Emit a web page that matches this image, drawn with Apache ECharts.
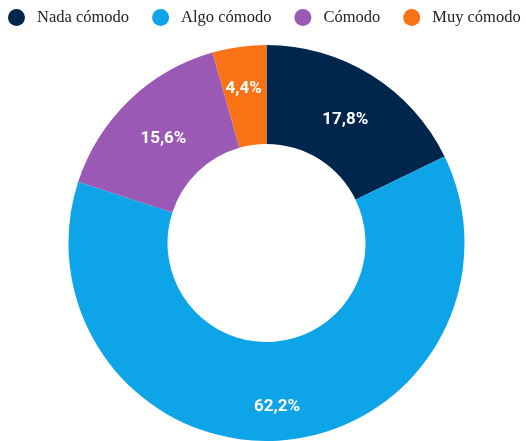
<!DOCTYPE html>
<html>
<head>
<meta charset="utf-8">
<script src="https://cdn.jsdelivr.net/npm/echarts@6/dist/echarts.min.js"></script>
<style>
  html, body { margin: 0; padding: 0; background: #fff; }
  #chart { width: 526px; height: 441px; }
</style>
</head>
<body>
<div id="chart"></div>
<script>
// Nivel de comodidad: categorías, porcentajes y colores
const categories = ['Nada cómodo', 'Algo cómodo', 'Cómodo', 'Muy cómodo'];
const values = [17.8, 62.2, 15.6, 4.4];
const colors = ['#01264D', '#0EA5E8', '#9B59B6', '#F97316'];
// Desplazamiento de cada etiqueta respecto a su posición por defecto
const labelShift = [[-1.5, 5], [0, 13], [2, 5], [-2, -4]];

const chart = echarts.init(document.getElementById('chart'), null, { renderer: 'canvas' });

chart.setOption({
  animation: false,
  color: colors,
  legend: {
    data: categories,
    left: 8,
    top: 9,
    width: 518,
    padding: 0,
    icon: 'circle',
    itemWidth: 17,
    itemHeight: 17,
    itemGap: 23,
    textStyle: {
      fontFamily: 'Liberation Serif',
      fontSize: 16.5,
      color: '#222',
      padding: [0, 0, 0, 7]
    }
  },
  series: [{
    type: 'pie',
    center: [266.5, 243],
    radius: [99, 198],
    startAngle: 90,
    clockwise: true,
    avoidLabelOverlap: false,
    label: {
      show: true,
      position: 'inside',
      formatter: p => p.value.toFixed(1).replace('.', ',') + '%',
      color: '#fff',
      fontFamily: 'Roboto',
      fontWeight: 'bold',
      fontSize: 17
    },
    labelLayout: p => ({ dx: labelShift[p.dataIndex][0], dy: labelShift[p.dataIndex][1] }),
    labelLine: { show: false },
    emphasis: { disabled: true },
    data: categories.map((name, i) => ({ name, value: values[i] }))
  }]
});
</script>
</body>
</html>
